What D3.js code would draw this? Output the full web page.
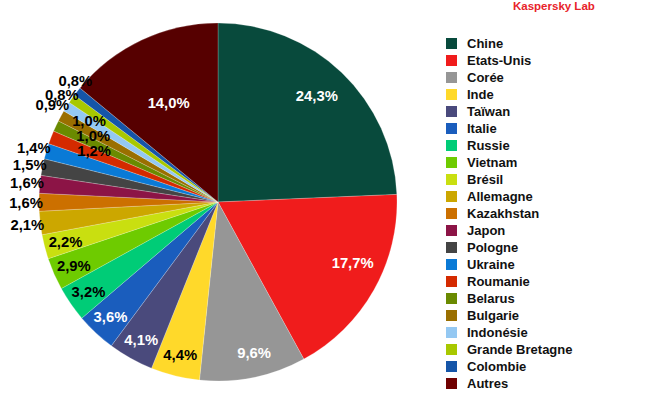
<!DOCTYPE html>
<html><head><meta charset="utf-8">
<script src="https://cdn.jsdelivr.net/npm/d3@7"></script>
<style>body{margin:0;background:#fff}svg{display:block}</style>
</head><body>
<svg id="c" width="650" height="400"></svg>
<script>
const countries = ["Chine","Etats-Unis","Corée","Inde","Taïwan","Italie","Russie","Vietnam","Brésil","Allemagne","Kazakhstan","Japon","Pologne","Ukraine","Roumanie","Belarus","Bulgarie","Indonésie","Grande Bretagne","Colombie","Autres"];
const shares = [24.3,17.7,9.6,4.4,4.1,3.6,3.2,2.9,2.2,2.1,1.6,1.6,1.5,1.4,1.2,1.0,1.0,0.9,0.8,0.8,14.0];
const colors = ["#084a3c","#f01c1c","#969696","#ffd92a","#4a4a7c","#1a5dbd","#00cc77","#6ecb00","#c9df10","#cca700","#cc7000","#8c1446","#444444","#0a7ad6","#d42a00","#6a8a00","#9a6f00","#94c8f2","#a8c800","#1555a8","#700000"];
const title = "Kaspersky Lab";

const svg = d3.select("#c");
const cx = 218, cy = 202, R = 179;
const fmt = v => d3.format(".1f")(v).replace(".", ",") + "%";

const defs = svg.append("defs");
const g1 = defs.append("linearGradient").attr("id","gAutres").attr("gradientUnits","userSpaceOnUse")
  .attr("x1",0).attr("y1",cy-R).attr("x2",0).attr("y2",cy);
g1.append("stop").attr("offset","0").attr("stop-color","#560000");
g1.append("stop").attr("offset","1").attr("stop-color","#8a0000");

const data = countries.map((c,i)=>({name:c, value:shares[i], color:colors[i]}));
const pie = d3.pie().value(d=>d.value).sort(null);
const arcs = pie(data);
const arc = d3.arc().innerRadius(0).outerRadius(R);

const g = svg.append("g").attr("transform",`translate(${cx},${cy})`);
g.selectAll("path").data(arcs).join("path")
  .attr("d", arc)
  .attr("fill", d => d.data.name === "Autres" ? "url(#gAutres)" : d.data.color)
  .attr("stroke", "rgba(255,255,255,0.35)")
  .attr("stroke-width", 0.6);

const white = new Set(["Chine","Etats-Unis","Corée","Taïwan","Italie","Autres"]);
const outside = new Set(["Allemagne","Kazakhstan","Japon","Pologne","Ukraine","Indonésie","Grande Bretagne","Colombie"]);
// label layout: [radius factor, angle shift in degrees] for labels that the original nudged
const nudge = {"Chine":[0.81,-0.8],"Etats-Unis":[0.825,-5.2],"Corée":[0.865,-2.1],"Autres":[0.62,-1.2],
  "Roumanie":[0.75,1.4],"Belarus":[0.79,2.9],"Bulgarie":[0.853,3.6],
  "Indonésie":[1.073,-1.8],"Grande Bretagne":[1.06,-0.6],"Colombie":[1.045,2.2]};
function labelPos(d){
  let a = (d.startAngle + d.endAngle)/2;
  let r = outside.has(d.data.name) ? R + 13 : R * 0.88;
  const n = nudge[d.data.name];
  if (n) { r = R * n[0]; a += n[1] * Math.PI / 180; }
  return [Math.sin(a)*r, -Math.cos(a)*r];
}
g.selectAll("text.lbl").data(arcs).join("text")
  .attr("class","lbl")
  .attr("transform", d => `translate(${labelPos(d)})`)
  .attr("text-anchor","middle").attr("dy","0.36em")
  .attr("font-family","'Liberation Sans', Arial, sans-serif")
  .attr("font-weight","bold").attr("font-size","14.8px")
  .attr("fill", d => white.has(d.data.name) ? "#fff" : "#000")
  .text(d => fmt(d.data.value));

// legend
const legY = d3.scaleBand().domain(countries).range([36, 36 + 17*countries.length]);
const leg = svg.append("g");
const row = leg.selectAll("g").data(data).join("g")
  .attr("transform", d => `translate(446,${legY(d.name)})`);
row.append("rect").attr("width",11).attr("height",11).attr("y",2)
  .attr("fill", d => d.color);
row.append("text").attr("x",21).attr("y",12)
  .attr("font-family","'Liberation Sans', Arial, sans-serif")
  .attr("font-weight","bold").attr("font-size","13px").attr("fill","#111")
  .text(d => d.name);

svg.append("text").attr("x",513).attr("y",10)
  .attr("font-family","'Liberation Sans', Arial, sans-serif")
  .attr("font-weight","bold").attr("font-size","11.5px").attr("fill","#e8232a")
  .text(title);
</script>
</body></html>
